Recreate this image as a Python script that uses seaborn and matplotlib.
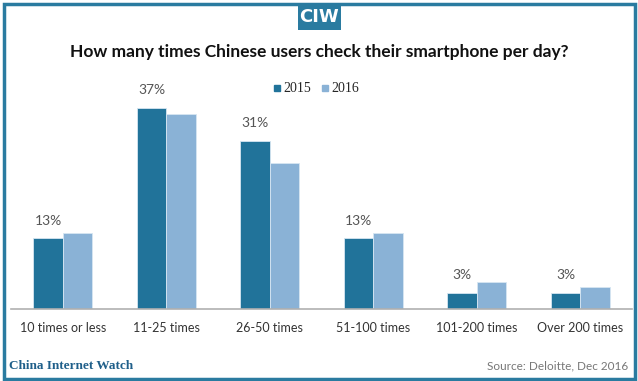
import pandas as pd
import numpy as np
import seaborn as sns
import matplotlib.pyplot as plt
from matplotlib.patches import Rectangle
from matplotlib.lines import Line2D

# Data
categories = ['10 times or less', '11-25 times', '26-50 times',
              '51-100 times', '101-200 times', 'Over 200 times']
share_2015 = [13, 37, 31, 13, 3, 3]
share_2016 = [14, 36, 27, 14, 5, 4]
years = ['2015', '2016']

df = pd.DataFrame({
    'category': categories * 2,
    'year': [years[0]] * len(categories) + [years[1]] * len(categories),
    'share': share_2015 + share_2016,
})

blue_dark = '#21739a'
blue_light = '#8ab2d6'
frame_blue = '#2a7ba0'

sns.set_style('white')
plt.rcParams['font.family'] = ['Lato', 'DejaVu Sans']

fig = plt.figure(figsize=(6.38, 3.81), dpi=100)
ax = fig.add_axes([11 / 638, 1 - 309 / 381, 621 / 638, 217 / 381])

sns.barplot(data=df, x='category', y='share', hue='year',
            palette=[blue_dark, blue_light], saturation=1, width=0.57, gap=0,
            edgecolor='#d6e6f2', linewidth=0.6, ax=ax)

ax.set_ylim(0, 40)
ax.set_xlim(-0.5, len(categories) - 0.5)
ax.set_xlabel('')
ax.set_ylabel('')
ax.set_yticks([])
for s in ['top', 'right', 'left']:
    ax.spines[s].set_visible(False)
ax.spines['bottom'].set_color('#b0b0b0')
ax.spines['bottom'].set_linewidth(1.2)
ax.tick_params(axis='x', which='major', length=0, pad=9,
               labelsize=9, labelcolor='#333333')
ax.set_xticks(np.arange(-0.5, len(categories)), minor=True)
ax.tick_params(axis='x', which='minor', length=5, color='#b0b0b0', width=1)

# value labels on 2015 bars
for i, v in enumerate(share_2015):
    ax.text(i - 0.14, v + 2.2, f'{v}%', ha='center', va='bottom',
            fontsize=10, color='#555555')

ax.legend_.remove()
handles = [Line2D([], [], marker='s', linestyle='', markersize=5,
                  color=c) for c in (blue_dark, blue_light)]
fig.legend(handles, years, loc='center', bbox_to_anchor=(315 / 638, 1 - 89 / 381),
           ncol=2, frameon=False, handletextpad=0.05, columnspacing=0.6,
           handlelength=0.8, prop={'family': 'Liberation Serif', 'size': 10})

fig.text(0.5, 1 - 52 / 381,
         'How many times Chinese users check their smartphone per day?',
         ha='center', va='center', fontsize=12.5, fontweight='bold',
         color='#111111')

# frame around the figure
fig.patches.append(Rectangle((3.5 / 638, 2.5 / 381), 631 / 638, 375 / 381,
                             transform=fig.transFigure, fill=False,
                             edgecolor=frame_blue, linewidth=2.5))
# CIW badge
fig.patches.append(Rectangle((298 / 638, 1 - 30 / 381), 43 / 638, 27 / 381,
                             transform=fig.transFigure, facecolor=frame_blue,
                             edgecolor='none'))
fig.text(319.5 / 638, 1 - 17 / 381, 'CIW', ha='center', va='center',
         fontsize=13, fontweight='bold', color='white',
         family='Liberation Sans Narrow')

fig.text(9 / 638, 1 - 366 / 381, 'China Internet Watch', ha='left', va='center',
         fontsize=9.5, fontweight='bold', color='#1f5f8a',
         family='Liberation Serif')
fig.text(628 / 638, 1 - 366 / 381, 'Source: Deloitte, Dec 2016', ha='right',
         va='center', fontsize=8.5, color='#777777')

fig.savefig('out.png', dpi=100)
